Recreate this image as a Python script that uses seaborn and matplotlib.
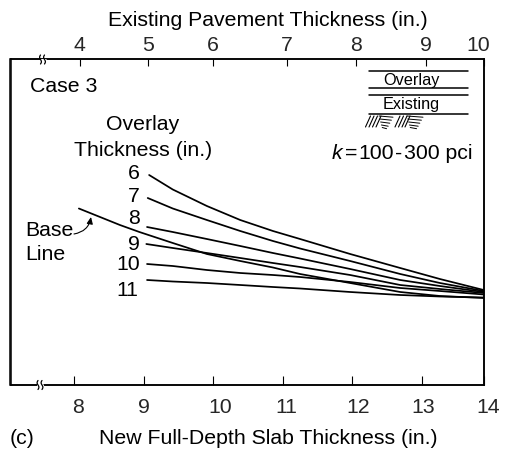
import numpy as np
import pandas as pd
import matplotlib
matplotlib.use("Agg")
import matplotlib.pyplot as plt
from matplotlib.transforms import Affine2D, ScaledTranslation
import seaborn as sns

# curves: x is new slab thickness, y is height above the bottom axis (no scale given)
x_grid = [9.42, 9.91, 10.39, 10.86, 11.25, 11.97, 12.69, 13.26, 13.89]
x_starts = {"6": 9.08, "7": 9.06, "8": 9.05, "9": 9.04, "10": 9.05, "11": 9.05}
overlay_6 = [210, 195.5, 179, 165, 154, 146, 131, 117, 106, 95]
overlay_7 = [187, 176.5, 165, 154, 144, 136.5, 124, 111, 102, 94]
overlay_8 = [158, 153, 146, 139, 132, 126.5, 116, 105, 99, 93]
overlay_9 = [141, 137, 132, 127, 122, 118, 110, 100, 96, 92]
overlay_10 = [121, 119, 115, 112, 110, 108, 103, 97, 94, 90.5]
overlay_11 = [105, 103.5, 102, 100, 98, 96.5, 93, 90, 88.5, 87.5]
base_x = [8.07, 8.66, 8.94, 9.42, 9.91, 10.39, 10.86, 11.25, 11.97, 12.69, 13.26, 13.89]
base_y = [176.5, 160, 153, 142, 131, 124, 117.5, 111, 102, 93, 89, 87]

bottom_ticks = [8, 9, 10, 11, 12, 13, 13.89]
bottom_labels = ["8", "9", "10", "11", "12", "13", "14"]
bottom_shift = [4, 0, 7, 4, 6, 1, 4]
top_ticks = [4, 4.98, 5.91, 6.98, 7.98, 8.98, 9.81]
top_labels = ["4", "5", "6", "7", "8", "9", "10"]
top_shift = [0, 0, 0, 0, 0, 0, -6]

sns.set_style("white")
plt.rcParams["font.family"] = ["Liberation Sans", "DejaVu Sans"]
FS = 15.3

rows = []
for name, vals in [("6", overlay_6), ("7", overlay_7), ("8", overlay_8),
                   ("9", overlay_9), ("10", overlay_10), ("11", overlay_11)]:
    for a, b in zip([x_starts[name]] + x_grid, vals):
        rows.append((name, a, b))
for a, b in zip(base_x, base_y):
    rows.append(("base", a, b))
df = pd.DataFrame(rows, columns=["curve", "slab", "height"])

fig = plt.figure(figsize=(5.09, 4.5), dpi=100)
ax = fig.add_axes([10.5 / 509, 1 - 385 / 450, 473.2 / 509, 325.5 / 450])
for name, part in df.groupby("curve", sort=False):
    sns.lineplot(data=part, x="slab", y="height", color="black", lw=1.25, sort=False,
                 estimator=None, ax=ax, legend=False)
ax.set_xlim(7.087, 13.89)
ax.set_ylim(0, 325.5)
ax.set_xlabel("")
ax.set_ylabel("")
ax.set_yticks([])
ax.set_xticks(bottom_ticks, bottom_labels, fontsize=FS)
ax.tick_params(axis="x", direction="in", length=6.5, width=0.8, pad=9.5, color="black", bottom=True)

top = ax.twiny()
top.set_xlim(3.005, 9.81)
top.set_xticks(top_ticks, top_labels, fontsize=FS)
top.tick_params(axis="x", direction="in", length=5, width=0.8, pad=3, color="black", top=True)
for a in (ax, top):
    for s in a.spines.values():
        s.set_linewidth(1.1)
        s.set_color("black")
for lab, dx in zip(ax.get_xticklabels(), bottom_shift):
    lab.set_transform(lab.get_transform() + ScaledTranslation(dx / 100, 0, fig.dpi_scale_trans))
for lab, dx in zip(top.get_xticklabels(), top_shift):
    lab.set_transform(lab.get_transform() + ScaledTranslation(dx / 100, 0, fig.dpi_scale_trans))

# everything below is placed in picture pixels
px = Affine2D().scale(1, -1).translate(0, 450)


def label(x, y, s, ha="center", size=FS, **kw):
    fig.text(x, y + 1.5, s, transform=px, ha=ha, va="center", fontsize=size, color="black", **kw)


def stroke(xs, ys, lw=1.0, color="black", z=5):
    fig.add_artist(plt.Line2D(xs, ys, transform=px, color=color, lw=lw, zorder=z))


label(268, 19, "Existing Pavement Thickness (in.)")
label(268, 437, "New Full-Depth Slab Thickness (in.)")
label(10, 437, "(c)", ha="left")
label(30, 85, "Case 3", ha="left")
label(143, 123, "Overlay")
label(143, 149, "Thickness (in.)")
for s, yy, xr in [("6", 172, 139.5), ("7", 195, 139.5), ("8", 217, 139.5),
                  ("9", 243, 139.5), ("10", 263, 140), ("11", 289, 138)]:
    label(xr, yy, s, ha="right")
label(25, 229, "Base", ha="left")
label(25, 253, "Line", ha="left")
label(332, 152, "k", ha="left", style="italic")
label(345, 152, "=", ha="left")
label(358, 152, "100", ha="left")
label(395.5, 152, "-", ha="left")
label(404, 152, "300 pci", ha="left")

# small layer sketch
for yy in [71, 88.3, 95.3, 114]:
    stroke([368.7, 468.3], [yy, yy], lw=1.1)
label(411, 79.5, "Overlay", size=11.7)
label(411, 102.5, "Existing", size=11.7)
for x0 in [365.5, 369, 372.5, 376, 395, 398.5, 402, 405]:
    stroke([x0, x0 + 5], [127, 116], lw=0.8)
for x0, x1 in [(379, 393), (407, 423)]:
    for k, yy in enumerate([116, 119, 122, 125, 127.5]):
        stroke([x0 + k * 0.8, x1 - k * 1.6], [yy, yy + 1.2], lw=0.7)

# axis breaks
for yy, xc in [(59.5, 42.5), (385, 40)]:
    stroke([xc - 2, xc + 2], [yy, yy], lw=2.2, color="white")
    t = np.linspace(-1, 1, 15)
    for off in (-2, 2):
        stroke(xc + off + 0.9 * np.sin(t * np.pi), yy + t * 4.5, lw=0.9)

ax.annotate("", xy=(91, 217), xytext=(74, 234), xycoords=px, textcoords=px,
            arrowprops=dict(arrowstyle="-|>,head_length=0.4,head_width=0.18", color="black", lw=0.8,
                            connectionstyle="arc3,rad=0.35", shrinkA=0, shrinkB=0))

fig.savefig("out.png", dpi=100)
